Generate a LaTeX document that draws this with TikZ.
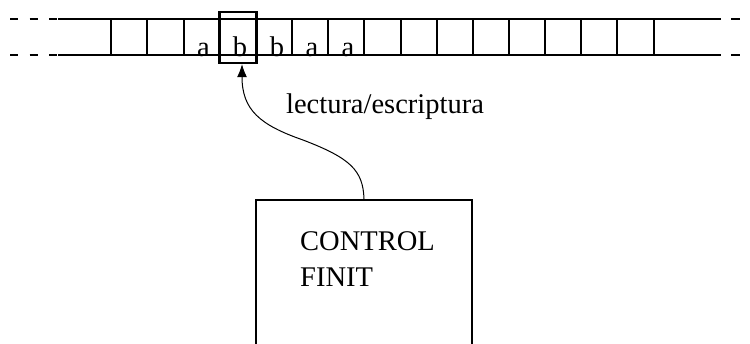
\documentclass[tikz,border=0pt]{standalone}
\usepackage{fontspec}
\setmainfont{Liberation Serif}
\usetikzlibrary{arrows.meta}
\begin{document}
\begin{tikzpicture}[x=1pt,y=-1pt,
  every node/.style={font=\fontsize{28.5}{36}\selectfont, inner sep=0pt},
  tapeline/.style={line width=1.3pt},
  sym/.style={anchor=base},
  thickbox/.style={draw, line width=2.3pt, inner sep=0pt},
  conn/.style={line width=1pt, -{Latex[length=13pt,width=10pt]}}]
\useasboundingbox (0,0) rectangle (750,343);
% tape
\foreach \yy in {19,55}{
  \draw[tapeline, dash pattern=on 8pt off 11.5pt] (10,\yy) -- (58,\yy);
  \draw[tapeline] (58,\yy) -- (721,\yy);
  \draw[tapeline] (731,\yy) -- (740,\yy);
}
\foreach \xx in {111,147,184,220,256,292,328,364,401,437,473,509,545,581,617,654}
  \draw[tapeline] (\xx,19) -- (\xx,55);
% symbols
\node[sym] (s1) at (203.5,56) {a};
\node[sym] (s2) at (240,56) {b};
\node[sym] (s3) at (277,56) {b};
\node[sym] (s4) at (312,56) {a};
\node[sym] (s5) at (348,56) {a};
% head
\node[thickbox, minimum width=37pt, minimum height=51pt] (head) at (238,37.5) {};
% control box
\node[thickbox, minimum width=216pt, minimum height=200pt] (ctrl) at (364,300) {};
\node[anchor=north west, align=left] (ctext) at (300,231.5) {CONTROL\\FINIT};
% label
\node[anchor=base] (rw) at (385,113) {lectura/escriptura};
% connector
\draw[conn] (ctrl.north) .. controls (363,170) and (350,158) .. (303,140)
  .. controls (260,125) and (242,110) .. ([xshift=4pt]head.south);
\end{tikzpicture}
\end{document}
